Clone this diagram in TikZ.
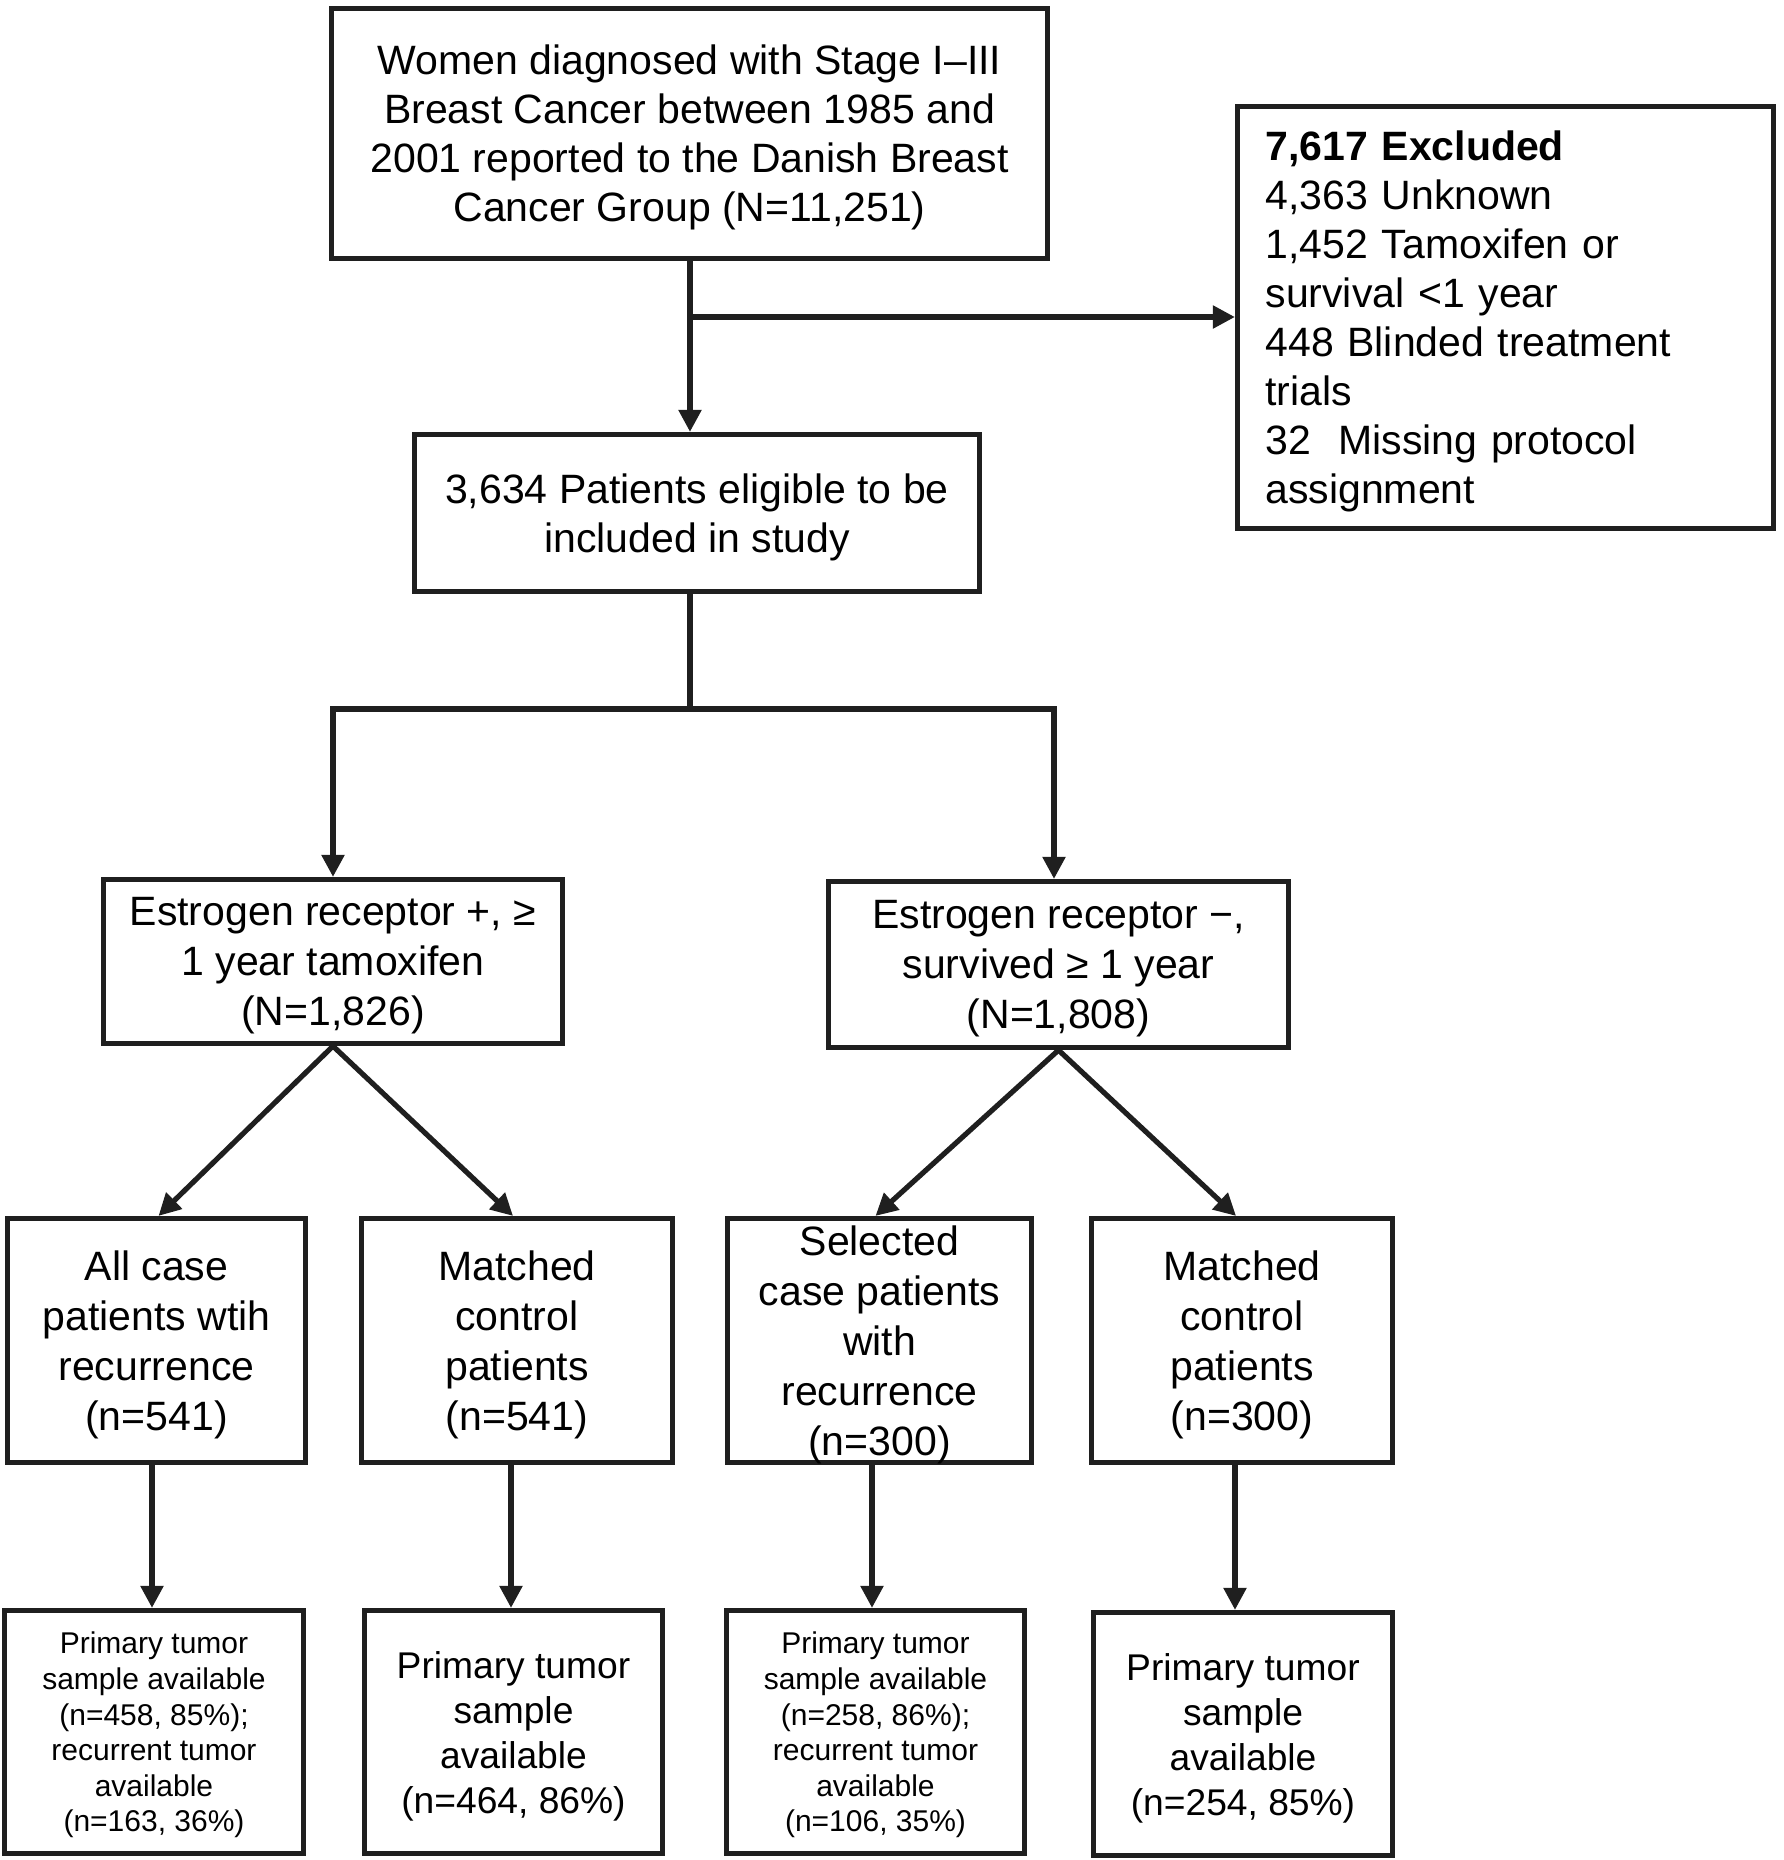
\documentclass[tikz,border=0pt]{standalone}
\usepackage{fontspec}
\setmainfont{Liberation Sans}
\usetikzlibrary{arrows.meta}
\begin{document}
\begin{tikzpicture}[x=0.5pt,y=-0.5pt,
  box/.style={draw=black!88, line width=2.6pt, inner sep=0pt, align=center, text depth=0pt, font=\fontsize{20.5}{25}\selectfont},
  small/.style={font=\fontsize{15}{17.8}\selectfont},
  mid/.style={font=\fontsize{18.6}{22.5}\selectfont},
  conn/.style={draw=black!88, line width=2.6pt},
  arr/.style={conn, -{Triangle[width=11pt,length=11pt]}}
]
\useasboundingbox (0,0) rectangle (1784,1860);
% boxes
\node[box, minimum width=358pt, minimum height=125pt, font=\fontsize{20.5}{24.5}\selectfont] (top) at (689.5,133.5)
  {Women diagnosed with Stage I–III\\Breast Cancer between 1985 and\\2001 reported to the Danish Breast\\Cancer Group (N=11,251)};
\node[box, text depth=, minimum height=211pt, text width=240pt, inner xsep=14pt, align=left, font=\fontsize{20.5}{24.5}\selectfont] (excl) at (1505.5,317.5)
  {\rule{0pt}{18.6pt}\textbf{7,617 Excluded}\\4,363 Unknown\\1,452 Tamoxifen or\\survival <1 year\\448 Blinded treatment\\trials\\32\ \ Missing protocol\\assignment};
\node[box, minimum width=282.5pt, minimum height=78.5pt, font=\fontsize{20.5}{24.5}\selectfont] (elig) at (697,513)
  {3,634 Patients eligible to be\\included in study};
\node[box, minimum width=229.5pt, minimum height=82pt] (erp) at (333,961.5)
  {Estrogen receptor +, ≥\\1 year tamoxifen\\(N=1,826)};
\node[box, minimum width=230pt, minimum height=83pt] (ern) at (1058.5,964.5)
  {Estrogen receptor −,\\survived ≥ 1 year\\(N=1,808)};
\node[box, minimum width=149pt, minimum height=122pt] (a3) at (156.5,1340.5)
  {All case\\patients wtih\\recurrence\\(n=541)};
\node[box, minimum width=155.5pt, minimum height=122pt] (b3) at (517,1340.5)
  {Matched\\control\\patients\\(n=541)};
\node[box, minimum width=152pt, minimum height=122pt] (c3) at (879.5,1340.5)
  {Selected\\case patients\\with\\recurrence\\(n=300)};
\node[box, minimum width=150.5pt, minimum height=122pt] (d3) at (1242,1340.5)
  {Matched\\control\\patients\\(n=300)};
\node[box, small, minimum width=149.5pt, minimum height=121.5pt] (a4) at (154,1732)
  {Primary tumor\\sample available\\(n=458, 85\%);\\recurrent tumor\\available\\(n=163, 36\%)};
\node[box, mid, minimum width=149pt, minimum height=121.5pt] (b4) at (513.5,1732)
  {Primary tumor\\sample\\available\\(n=464, 86\%)};
\node[box, small, minimum width=149pt, minimum height=121.5pt] (c4) at (875.5,1732)
  {Primary tumor\\sample available\\(n=258, 86\%);\\recurrent tumor\\available\\(n=106, 35\%)};
\node[box, mid, minimum width=149.5pt, minimum height=121.5pt] (d4) at (1243,1734)
  {Primary tumor\\sample\\available\\(n=254, 85\%)};
% junction coordinates
\coordinate (j1) at (690,317);
\coordinate (j2) at (690,709);
\coordinate (jl) at (333,709);
\coordinate (jr) at (1054,709);
% connectors
\draw[arr] (top.south -| j1) -- (elig.north -| j1);
\draw[arr] (j1) -- (excl.west |- j1);
\draw[conn] (elig.south -| j2) -- (j2);
\draw[conn, line cap=rect] (jl) -- (jr);
\draw[arr] (jl) -- (erp.north -| jl);
\draw[arr] (jr) -- (ern.north -| jr);
\draw[arr] (erp.south) -- ([xshift=1pt]a3.north);
\draw[arr] (erp.south) -- ([xshift=-2pt]b3.north);
\draw[arr] (ern.south) -- ([xshift=-2pt]c3.north);
\draw[arr] (ern.south) -- ([xshift=-3pt]d3.north);
\coordinate (va) at (152,0);
\coordinate (vb) at (511,0);
\coordinate (vc) at (872,0);
\coordinate (vd) at (1235,0);
\draw[arr] (a3.south -| va) -- (a4.north -| va);
\draw[arr] (b3.south -| vb) -- (b4.north -| vb);
\draw[arr] (c3.south -| vc) -- (c4.north -| vc);
\draw[arr] (d3.south -| vd) -- (d4.north -| vd);
\end{tikzpicture}
\end{document}
